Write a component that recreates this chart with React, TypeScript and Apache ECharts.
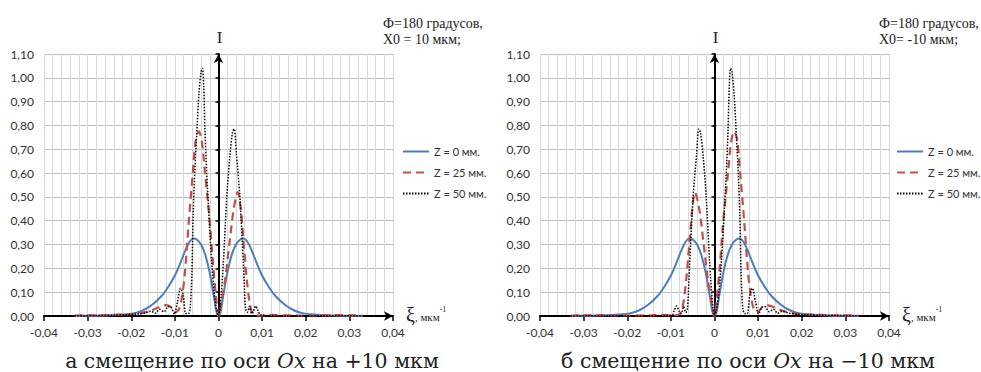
import React, { useEffect, useRef } from "react";
import * as echarts from "echarts";

// ---------- data ----------
const seriesNames = ["Z = 0 мм.", "Z = 25 мм.", "Z = 50 мм."];
const xTickLabels = ["-0,04", "-0,03", "-0,02", "-0,01", "0", "0,01", "0,02", "0,03", "0,04"];
const yTickLabels = ["0,00", "0,10", "0,20", "0,30", "0,40", "0,50", "0,60", "0,70", "0,80", "0,90", "1,00", "1,10"];
const panelNotes = ["Ф=180 градусов,\nX0 = 10 мкм;", "Ф=180 градусов,\nX0= -10 мкм;"];
const panelCaptions = [
  ["а смещение по оси ", "Ox", " на +10 мкм"],
  ["б смещение по оси ", "Ox", " на −10 мкм"],
];

// panel а (X0 = +10)
const z0A: [number, number][] = [
  [-0.033, 0.0], [-0.03, 0.001], [-0.025, 0.003], [-0.022, 0.006], [-0.0195, 0.011],
  [-0.0175, 0.022], [-0.0153, 0.046], [-0.013, 0.085], [-0.0115, 0.123], [-0.01, 0.17],
  [-0.0088, 0.22], [-0.0075, 0.28], [-0.0065, 0.315], [-0.0057, 0.325], [-0.005, 0.321],
  [-0.004, 0.3], [-0.003, 0.255], [-0.002, 0.18], [-0.001, 0.075], [-0.0005, 0.02], [0, 0],
  [0.0005, 0.02], [0.001, 0.075], [0.002, 0.18], [0.003, 0.255], [0.004, 0.3], [0.005, 0.321],
  [0.0057, 0.325], [0.0065, 0.315], [0.0075, 0.28], [0.0088, 0.22], [0.01, 0.17], [0.0115, 0.123],
  [0.013, 0.085], [0.0153, 0.046], [0.0175, 0.022], [0.0195, 0.011], [0.022, 0.006], [0.025, 0.003],
  [0.03, 0.001], [0.033, 0.0],
];
const z25A: [number, number][] = [
  [-0.033, 0.002], [-0.03, 0.003], [-0.027, 0.003], [-0.024, 0.005], [-0.021, 0.007],
  [-0.019, 0.009], [-0.017, 0.015], [-0.015, 0.026], [-0.0135, 0.038], [-0.012, 0.046],
  [-0.011, 0.038], [-0.0098, 0.016], [-0.009, 0.03], [-0.0083, 0.09], [-0.0077, 0.18],
  [-0.0069, 0.375], [-0.0059, 0.6], [-0.0052, 0.74], [-0.0045, 0.775], [-0.0038, 0.73],
  [-0.0031, 0.6], [-0.0025, 0.49], [-0.0019, 0.375], [-0.0012, 0.207], [-0.0005, 0.07], [0, 0],
  [0.0006, 0.05], [0.0015, 0.15], [0.0026, 0.32], [0.0035, 0.45], [0.0044, 0.52], [0.0051, 0.45],
  [0.0057, 0.32], [0.0065, 0.15], [0.0071, 0.06], [0.0077, 0.015], [0.0085, 0.004], [0.01, 0.002],
  [0.012, 0.005], [0.015, 0.003], [0.018, 0.002], [0.022, 0.002], [0.026, 0.004], [0.03, 0.003],
  [0.033, 0.001],
];
const z50A: [number, number][] = [
  [-0.033, 0.001], [-0.028, 0.002], [-0.024, 0.003], [-0.021, 0.005], [-0.019, 0.008],
  [-0.017, 0.012], [-0.0155, 0.02], [-0.0145, 0.012], [-0.0135, 0.028], [-0.0125, 0.018],
  [-0.0115, 0.04], [-0.0108, 0.035], [-0.0101, 0.008], [-0.0094, 0.06], [-0.0087, 0.116],
  [-0.0081, 0.09], [-0.0075, 0.01], [-0.0069, 0.01], [-0.0065, 0.03], [-0.0061, 0.18],
  [-0.0058, 0.43], [-0.0054, 0.62], [-0.005, 0.76], [-0.0045, 0.93], [-0.004, 1.025],
  [-0.0037, 1.04], [-0.0034, 0.97], [-0.0031, 0.78], [-0.0027, 0.6], [-0.0023, 0.46],
  [-0.0016, 0.235], [-0.001, 0.1], [-0.0004, 0.02], [0, 0], [0.0004, 0.04], [0.0011, 0.22],
  [0.0019, 0.5], [0.0026, 0.67], [0.0032, 0.77], [0.0036, 0.785], [0.0041, 0.68], [0.0049, 0.5],
  [0.0057, 0.22], [0.0062, 0.03], [0.0066, 0.015], [0.0071, 0.04], [0.0076, 0.01], [0.008, 0.02],
  [0.0085, 0.042], [0.009, 0.025], [0.0097, 0.004], [0.012, 0.002], [0.016, 0.001], [0.02, 0.001],
  [0.025, 0.001], [0.03, 0.001], [0.033, 0.0],
];

// panel б (X0 = -10)
const z0B: [number, number][] = [
  [-0.033, 0.0], [-0.03, 0.001], [-0.025, 0.003], [-0.022, 0.006], [-0.0195, 0.011],
  [-0.0175, 0.022], [-0.0153, 0.046], [-0.013, 0.085], [-0.0115, 0.123], [-0.01, 0.17],
  [-0.0088, 0.22], [-0.0075, 0.28], [-0.0065, 0.315], [-0.0057, 0.325], [-0.005, 0.321],
  [-0.004, 0.3], [-0.003, 0.255], [-0.002, 0.18], [-0.001, 0.075], [-0.0005, 0.02], [0, 0],
  [0.0005, 0.02], [0.001, 0.075], [0.002, 0.18], [0.003, 0.255], [0.004, 0.3], [0.005, 0.321],
  [0.0057, 0.325], [0.0065, 0.315], [0.0075, 0.28], [0.0088, 0.22], [0.01, 0.17], [0.0115, 0.123],
  [0.013, 0.085], [0.0153, 0.046], [0.0175, 0.022], [0.0195, 0.011], [0.022, 0.006], [0.025, 0.003],
  [0.03, 0.001], [0.033, 0.0],
];
const z25B: [number, number][] = [
  [-0.033, 0.001], [-0.03, 0.003], [-0.026, 0.004], [-0.022, 0.002], [-0.018, 0.002],
  [-0.015, 0.003], [-0.012, 0.005], [-0.01, 0.002], [-0.0085, 0.004], [-0.0077, 0.015],
  [-0.0071, 0.06], [-0.0065, 0.15], [-0.0057, 0.32], [-0.0051, 0.45], [-0.0045, 0.52],
  [-0.0035, 0.45], [-0.0026, 0.32], [-0.0015, 0.15], [-0.0006, 0.05], [0, 0], [0.0005, 0.07],
  [0.0012, 0.207], [0.0019, 0.375], [0.0025, 0.49], [0.0031, 0.6], [0.0038, 0.73], [0.0045, 0.775],
  [0.0052, 0.74], [0.0059, 0.6], [0.0069, 0.375], [0.0077, 0.18], [0.0083, 0.09], [0.009, 0.03],
  [0.0098, 0.016], [0.011, 0.038], [0.012, 0.046], [0.0135, 0.038], [0.015, 0.026], [0.017, 0.015],
  [0.019, 0.009], [0.021, 0.007], [0.024, 0.005], [0.027, 0.003], [0.03, 0.003], [0.033, 0.002],
];
const z50B: [number, number][] = [
  [-0.033, 0.0], [-0.03, 0.001], [-0.025, 0.001], [-0.02, 0.001], [-0.016, 0.001], [-0.012, 0.002],
  [-0.0097, 0.004], [-0.0092, 0.025], [-0.0087, 0.042], [-0.0081, 0.02], [-0.0076, 0.01],
  [-0.0071, 0.04], [-0.0066, 0.015], [-0.0062, 0.03], [-0.0057, 0.22], [-0.0049, 0.5],
  [-0.0041, 0.68], [-0.0036, 0.785], [-0.0032, 0.77], [-0.0026, 0.67], [-0.0019, 0.5],
  [-0.0011, 0.22], [-0.0004, 0.04], [0, 0], [0.0004, 0.02], [0.001, 0.1], [0.0016, 0.235],
  [0.0023, 0.46], [0.0027, 0.6], [0.0031, 0.78], [0.0034, 0.97], [0.0037, 1.04], [0.004, 1.025],
  [0.0045, 0.93], [0.005, 0.76], [0.0054, 0.62], [0.0058, 0.43], [0.0061, 0.18], [0.0065, 0.03],
  [0.0069, 0.01], [0.0075, 0.01], [0.0081, 0.09], [0.0087, 0.116], [0.0094, 0.06], [0.0101, 0.008],
  [0.0108, 0.035], [0.0115, 0.04], [0.0125, 0.018], [0.0135, 0.028], [0.0145, 0.012], [0.0155, 0.02],
  [0.017, 0.012], [0.019, 0.008], [0.021, 0.005], [0.024, 0.003], [0.028, 0.002], [0.033, 0.001],
];

const panels = [
  [z0A, z25A, z50A],
  [z0B, z25B, z50B],
];

// ---------- styles ----------
const SANS = "Lato, 'Open Sans', sans-serif";
const SERIF = "'Liberation Serif', 'DejaVu Serif', serif";
const CAPTION_FONT = "'DejaVu Serif', serif";
const gridBoxes = [
  { left: 44, top: 54, width: 349, height: 262 },
  { left: 540, top: 54, width: 349, height: 262 },
];
const legendLefts = [402, 896];
const lineStyles = [
  { color: "#4a7ebb", width: 2, type: "solid" },
  { color: "#c0504d", width: 2.2, type: [8, 5] },
  { color: "#000000", width: 1.5, type: [1.5, 1.5] },
];

const xFmt = (v: number) => xTickLabels[Math.round(v * 100) + 4] ?? "";
const yFmt = (v: number) => yTickLabels[Math.round(v * 10)] ?? "";

function buildOption() {
  const xAxis: any[] = [];
  const yAxis: any[] = [];
  const series: any[] = [];
  const legend: any[] = [];
  const graphic: any[] = [];

  gridBoxes.forEach((g, i) => {
    xAxis.push({
      type: "value",
      gridIndex: i,
      min: -0.04,
      max: 0.04,
      interval: 0.01,
      axisLine: {
        show: true,
        onZero: true,
        symbol: ["none", "arrow"],
        symbolSize: [7, 9],
        lineStyle: { color: "#000", width: 2 },
      },
      axisTick: { show: true, length: 5, lineStyle: { color: "#000", width: 1.5 } },
      axisLabel: { formatter: xFmt, margin: 10, fontFamily: SANS, fontSize: 12, color: "#333" },
      splitLine: { show: true, lineStyle: { color: "#d9d9d9", width: 1 } },
      minorTick: { show: false, splitNumber: 5 },
      minorSplitLine: { show: true, lineStyle: { color: "#d9d9d9", width: 1 } },
    });
    yAxis.push({
      type: "value",
      gridIndex: i,
      position: "left",
      min: 0,
      max: 1.1,
      interval: 0.1,
      axisLine: { show: false, onZero: false },
      axisTick: { show: false },
      axisLabel: { formatter: yFmt, margin: 10, fontFamily: SANS, fontSize: 12, color: "#333" },
      splitLine: { show: true, lineStyle: { color: "#bfbfbf", width: 1 } },
    });
    yAxis.push({
      type: "value",
      gridIndex: i,
      position: "left",
      min: 0,
      max: 1.1,
      interval: 0.1,
      axisLine: {
        show: true,
        onZero: true,
        onZeroAxisIndex: i,
        symbol: ["none", "arrow"],
        symbolSize: [7, 9],
        lineStyle: { color: "#000", width: 2 },
      },
      axisTick: { show: true, length: 3, lineStyle: { color: "#000", width: 1.5 } },
      axisLabel: { show: false },
      splitLine: { show: false },
    });

    panels[i].forEach((data, k) => {
      series.push({
        type: "line",
        name: seriesNames[k],
        xAxisIndex: i,
        yAxisIndex: 2 * i,
        data,
        symbol: "none",
        showSymbol: false,
        smooth: 0.3,
        lineStyle: lineStyles[k],
        itemStyle: { color: lineStyles[k].color },
        z: 3 + k,
      });
    });

    legend.push({
      orient: "vertical",
      left: legendLefts[i],
      top: 146,
      padding: 0,
      itemWidth: 26,
      itemHeight: 10,
      itemGap: 10,
      data: seriesNames,
      itemStyle: { opacity: 0, borderWidth: 0 },
      textStyle: { fontFamily: SANS, fontSize: 11, color: "#333" },
    });

    const zeroX = g.left + g.width / 2;
    graphic.push({
      type: "text",
      x: zeroX + 1,
      y: 37,
      style: { text: "I", fontFamily: SERIF, fontSize: 17, fill: "#222", align: "center", verticalAlign: "middle" },
    });
    graphic.push({
      type: "text",
      x: g.left + g.width + 13,
      y: 315,
      style: {
        text: "{xi|ξ}{u|, мкм}{s|-1}",
        fill: "#222",
        align: "left",
        verticalAlign: "middle",
        rich: {
          xi: { fontFamily: SERIF, fontSize: 20, fill: "#222" },
          u: { fontFamily: SERIF, fontSize: 11, fill: "#222", padding: [4, 0, 0, 0] },
          s: { fontFamily: SERIF, fontSize: 8, fill: "#222", verticalAlign: "top", padding: [0, 0, 6, 0] },
        },
      },
    });
    graphic.push({
      type: "text",
      x: g.left + g.width - 10,
      y: 15,
      style: {
        text: panelNotes[i],
        fontFamily: SERIF,
        fontSize: 14,
        lineHeight: 16,
        fill: "#222",
        align: "left",
        verticalAlign: "top",
      },
    });
    const cap = panelCaptions[i];
    graphic.push({
      type: "text",
      x: i === 0 ? 252 : 748,
      y: 361,
      style: {
        text: `{n|${cap[0]}}{it|${cap[1]}}{n|${cap[2]}}`,
        align: "center",
        verticalAlign: "middle",
        rich: {
          n: { fontFamily: CAPTION_FONT, fontSize: 20.5, lineHeight: 20, fill: "#222" },
          it: { fontFamily: CAPTION_FONT, fontSize: 20.5, lineHeight: 20, fontStyle: "italic", fill: "#222" },
        },
      },
    });
  });

  return {
    animation: false,
    backgroundColor: "#ffffff",
    grid: gridBoxes.map((g) => ({ ...g, containLabel: false })),
    xAxis,
    yAxis,
    legend,
    series,
    graphic,
  };
}

export default function App() {
  const ref = useRef<HTMLDivElement>(null);
  useEffect(() => {
    if (!ref.current) return;
    const chart = echarts.init(ref.current, null, { renderer: "svg" });
    chart.setOption(buildOption() as any);
    return () => chart.dispose();
  }, []);
  return (
    <div
      ref={ref}
      style={{ position: "absolute", left: 0, top: 0, width: 981, height: 372, background: "#fff" }}
    />
  );
}
